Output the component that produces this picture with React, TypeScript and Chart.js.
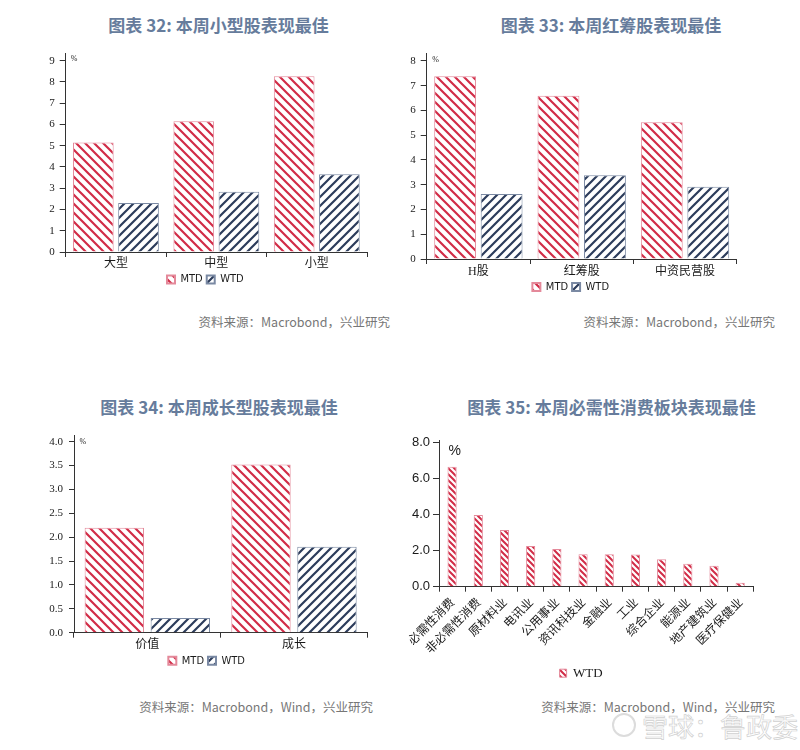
import React, { useEffect, useRef } from "react";
import { Chart, registerables } from "chart.js";

Chart.register(...registerables);

// ---------- data ----------
const sizeCategories = ["大型", "中型", "小型"];
const sizeMTD = [5.15, 6.15, 8.27];
const sizeWTD = [2.31, 2.83, 3.66];
const sizeTicks = [0, 1, 2, 3, 4, 5, 6, 7, 8, 9];

const hkCategories = ["H股", "红筹股", "中资民营股"];
const hkMTD = [7.38, 6.6, 5.52];
const hkWTD = [2.63, 3.38, 2.92];
const hkTicks = [0, 1, 2, 3, 4, 5, 6, 7, 8];

const styleCategories = ["价值", "成长"];
const styleMTD = [2.2, 3.52];
const styleWTD = [0.31, 1.8];
const styleTicks = [0, 0.5, 1, 1.5, 2, 2.5, 3, 3.5, 4];

const sectorCategories = [
  "必需性消费",
  "非必需性消费",
  "原材料业",
  "电讯业",
  "公用事业",
  "资讯科技业",
  "金融业",
  "工业",
  "综合企业",
  "能源业",
  "地产建筑业",
  "医疗保健业",
];
const sectorWTD = [6.67, 3.98, 3.15, 2.26, 2.09, 1.8, 1.8, 1.79, 1.52, 1.28, 1.17, 0.22];
const sectorTicks = [0, 2, 4, 6, 8];

const seriesNames = ["MTD", "WTD"];
const sectorSeriesName = "WTD";

// ---------- styles ----------
const RED = "#d12c47";
const RED_BORDER = "#e4899a";
const NAVY = "#2c3c5b";
const NAVY_BORDER = "#7a89a3";
const AXIS = "#333333";
const LABEL = "#1a1a1a";
const TITLE_COLOR = "#667c9c";
const SOURCE_COLOR = "#777777";

const SERIF = '"Liberation Serif", "Times New Roman", "Noto Sans CJK SC", serif';
const NARROW = '"Liberation Sans Narrow", "DejaVu Sans Condensed", "Noto Sans", sans-serif';
const SANS = '"Liberation Sans", Arial, "Noto Sans CJK SC", sans-serif';
const CJK = '"Noto Sans CJK SC", sans-serif';

function makeHatch(color: string, size: number, width: number, dir: "back" | "fwd") {
  const c = document.createElement("canvas");
  c.width = size;
  c.height = size;
  const g = c.getContext("2d")!;
  g.fillStyle = "#ffffff";
  g.fillRect(0, 0, size, size);
  g.strokeStyle = color;
  g.lineWidth = width;
  g.beginPath();
  for (let k = -1; k <= 1; k++) {
    if (dir === "back") {
      g.moveTo(k * size - 1, -1);
      g.lineTo(k * size + size + 1, size + 1);
    } else {
      g.moveTo(k * size - 1, size + 1);
      g.lineTo(k * size + size + 1, -1);
    }
  }
  g.stroke();
  return g.createPattern(c, "repeat")!;
}

type Layout = {
  x0: number;
  y0: number;
  w: number;
  h: number;
  areaL: number;
  areaR: number;
  areaT: number;
  areaB: number;
  yW: number;
  xH: number;
  legendFont: number;
  legendBoxW: number;
  legendBoxH: number;
  legendPad: number;
};

function computePads(L: Layout) {
  const pl = L.areaL - L.x0 - L.yW;
  const pr = L.x0 + L.w - L.areaR;
  const pt = L.areaT - L.y0;
  const itemH = Math.max(L.legendFont, L.legendBoxH);
  const legendH = itemH + L.legendPad + 10;
  const pb = Math.max(0, L.y0 + L.h - (L.areaB + L.xH + legendH));
  return { pl, pr, pt, pb, yW: L.yW, xH: L.xH };
}

type PanelOpts = {
  layout: Layout;
  categories: string[];
  datasets: any[];
  ticks: number[];
  yMax: number;
  decimals: number;
  yFont: any;
  yTickLen: number;
  yTickPad: number;
  xFont: any;
  xTickPad: number;
  rotation: number;
  legendFontFamily: string;
  legendLineWidth: number;
  pct: { text: string; dx: number; dy: number; font: string; at: number };
};

function buildConfig(o: PanelOpts): any {
  const P = computePads(o.layout);
  const tickVals = o.ticks;
  const pctPlugin = {
    id: "pctMark",
    afterDraw(chart: any) {
      const { ctx, chartArea } = chart;
      const y = chart.scales.y.getPixelForValue(o.pct.at) + o.pct.dy;
      ctx.save();
      ctx.font = o.pct.font;
      ctx.fillStyle = LABEL;
      ctx.textAlign = "left";
      ctx.textBaseline = "middle";
      ctx.fillText(o.pct.text, chartArea.left + o.pct.dx, y);
      ctx.restore();
    },
  };
  return {
    type: "bar",
    data: { labels: o.categories, datasets: o.datasets },
    plugins: [pctPlugin],
    options: {
      responsive: false,
      animation: false,
      events: [],
      layout: { padding: { left: P.pl, right: P.pr, top: P.pt, bottom: P.pb } },
      plugins: {
        tooltip: { enabled: false },
        title: { display: false },
        legend: {
          display: true,
          position: "bottom",
          labels: {
            boxWidth: o.layout.legendBoxW,
            boxHeight: o.layout.legendBoxH,
            padding: o.layout.legendPad,
            color: LABEL,
            font: { family: o.legendFontFamily, size: o.layout.legendFont },
            generateLabels: (chart: any) => {
              const items = Chart.defaults.plugins.legend.labels.generateLabels(chart);
              return items.map((it: any) => ({ ...it, lineWidth: o.legendLineWidth }));
            },
          },
        },
      },
      scales: {
        x: {
          type: "category",
          offset: true,
          grid: {
            display: true,
            drawOnChartArea: false,
            drawTicks: true,
            tickLength: 5,
            color: AXIS,
            offset: true,
          },
          border: { display: true, color: AXIS, width: 1 },
          ticks: {
            font: o.xFont,
            color: LABEL,
            padding: o.xTickPad,
            autoSkip: false,
            maxRotation: o.rotation,
            minRotation: o.rotation,
          },
          afterFit: (s: any) => {
            s.height = P.xH;
          },
        },
        y: {
          type: "linear",
          min: 0,
          max: o.yMax,
          grid: {
            display: true,
            drawOnChartArea: false,
            drawTicks: true,
            tickLength: o.yTickLen,
            color: AXIS,
          },
          border: { display: true, color: AXIS, width: 1 },
          ticks: {
            font: o.yFont,
            color: LABEL,
            padding: o.yTickPad,
            callback: (v: any) => Number(v).toFixed(o.decimals),
          },
          afterBuildTicks: (s: any) => {
            s.ticks = tickVals.map((v) => ({ value: v }));
          },
          afterFit: (s: any) => {
            s.width = P.yW;
          },
        },
      },
    },
  };
}

function ChartCanvas({ layout, make }: { layout: Layout; make: () => any }) {
  const ref = useRef<HTMLCanvasElement | null>(null);
  useEffect(() => {
    if (!ref.current) return;
    const chart = new Chart(ref.current, make());
    return () => chart.destroy();
  }, []);
  return (
    <canvas
      ref={ref}
      width={layout.w}
      height={layout.h}
      style={{ position: "absolute", left: layout.x0, top: layout.y0, width: layout.w, height: layout.h }}
    />
  );
}

const L1: Layout = {
  x0: 0, y0: 40, w: 400, h: 270,
  areaL: 65.7, areaR: 367, areaT: 53.3, areaB: 252, yW: 22, xH: 18,
  legendFont: 11, legendBoxW: 8, legendBoxH: 8, legendPad: 4,
};
const L2: Layout = {
  x0: 400, y0: 40, w: 400, h: 270,
  areaL: 426.7, areaR: 736.7, areaT: 53.3, areaB: 259, yW: 22, xH: 18.5,
  legendFont: 11, legendBoxW: 8, legendBoxH: 8, legendPad: 4,
};
const L3: Layout = {
  x0: 0, y0: 420, w: 400, h: 270,
  areaL: 74, areaR: 367.3, areaT: 435, areaB: 632.7, yW: 28, xH: 18.5,
  legendFont: 11, legendBoxW: 8, legendBoxH: 8, legendPad: 4,
};
const L4: Layout = {
  x0: 400, y0: 420, w: 400, h: 275,
  areaL: 439, areaR: 753.3, areaT: 440, areaB: 586.7, yW: 30, xH: 76,
  legendFont: 13, legendBoxW: 7, legendBoxH: 8, legendPad: 4,
};

function groupedDatasets(mtd: number[], wtd: number[]) {
  const redP = makeHatch(RED, 9, 2.2, "back");
  const navyP = makeHatch(NAVY, 9, 2.2, "fwd");
  return [
    {
      label: seriesNames[0],
      data: mtd,
      backgroundColor: redP,
      borderColor: RED_BORDER,
      borderWidth: 1,
      categoryPercentage: 0.9,
      barPercentage: 0.9,
    },
    {
      label: seriesNames[1],
      data: wtd,
      backgroundColor: navyP,
      borderColor: NAVY_BORDER,
      borderWidth: 1,
      categoryPercentage: 0.9,
      barPercentage: 0.9,
    },
  ];
}

const make1 = () =>
  buildConfig({
    layout: L1,
    categories: sizeCategories,
    datasets: groupedDatasets(sizeMTD, sizeWTD),
    ticks: sizeTicks,
    yMax: 9.35,
    decimals: 0,
    yFont: { family: SERIF, size: 11 },
    yTickLen: 6,
    yTickPad: 5,
    xFont: { family: SERIF, size: 12, lineHeight: 1 },
    xTickPad: 1,
    rotation: 0,
    legendFontFamily: NARROW,
    legendLineWidth: 2,
    pct: { text: "%", dx: 5, dy: -1.5, font: `8px ${SERIF}`, at: 9 },
  });

const make2 = () =>
  buildConfig({
    layout: L2,
    categories: hkCategories,
    datasets: groupedDatasets(hkMTD, hkWTD),
    ticks: hkTicks,
    yMax: 8.31,
    decimals: 0,
    yFont: { family: SERIF, size: 11 },
    yTickLen: 6,
    yTickPad: 5,
    xFont: { family: SERIF, size: 12, lineHeight: 1 },
    xTickPad: 1.5,
    rotation: 0,
    legendFontFamily: NARROW,
    legendLineWidth: 2,
    pct: { text: "%", dx: 5.5, dy: -1, font: `8px ${SERIF}`, at: 8 },
  });

const make3 = () =>
  buildConfig({
    layout: L3,
    categories: styleCategories,
    datasets: groupedDatasets(styleMTD, styleWTD),
    ticks: styleTicks,
    yMax: 4.14,
    decimals: 1,
    yFont: { family: SERIF, size: 11 },
    yTickLen: 5,
    yTickPad: 6,
    xFont: { family: SERIF, size: 12, lineHeight: 1 },
    xTickPad: 1.5,
    rotation: 0,
    legendFontFamily: NARROW,
    legendLineWidth: 2,
    pct: { text: "%", dx: 5.5, dy: 0, font: `8px ${SERIF}`, at: 4 },
  });

const make4 = () =>
  buildConfig({
    layout: L4,
    categories: sectorCategories,
    datasets: [
      {
        label: sectorSeriesName,
        data: sectorWTD,
        backgroundColor: makeHatch(RED, 6, 2, "back"),
        borderColor: RED_BORDER,
        borderWidth: 1,
        categoryPercentage: 1,
        barPercentage: 0.35,
      },
    ],
    ticks: sectorTicks,
    yMax: 8.15,
    decimals: 1,
    yFont: { family: SANS, size: 13 },
    yTickLen: 6,
    yTickPad: 3,
    xFont: { family: CJK, size: 12 },
    xTickPad: 3,
    rotation: 45,
    legendFontFamily: SERIF,
    legendLineWidth: 1,
    pct: { text: "%", dx: 9.5, dy: 8, font: `14px ${SANS}`, at: 8 },
  });

function Title({ text, cx, cy }: { text: string; cx: number; cy: number }) {
  return (
    <div
      style={{
        position: "absolute",
        left: cx - 200,
        top: cy - 12,
        width: 400,
        height: 24,
        lineHeight: "24px",
        textAlign: "center",
        fontFamily: CJK,
        fontWeight: 700,
        fontSize: 17,
        color: TITLE_COLOR,
        whiteSpace: "nowrap",
      }}
    >
      {text}
    </div>
  );
}

function Source({ text, right, cy }: { text: string; right: number; cy: number }) {
  return (
    <div
      style={{
        position: "absolute",
        left: right - 400,
        top: cy - 10,
        width: 400,
        height: 20,
        lineHeight: "20px",
        textAlign: "right",
        fontFamily: CJK,
        fontSize: 12.5,
        color: SOURCE_COLOR,
        whiteSpace: "nowrap",
      }}
    >
      {text}
    </div>
  );
}

export default function App() {
  return (
    <div
      style={{
        position: "absolute",
        left: 0,
        top: 0,
        width: 800,
        height: 750,
        background: "#ffffff",
        overflow: "hidden",
      }}
    >
      <Title text="图表 32: 本周小型股表现最佳" cx={218.5} cy={25} />
      <Title text="图表 33: 本周红筹股表现最佳" cx={611} cy={25} />
      <Title text="图表 34: 本周成长型股表现最佳" cx={219} cy={407} />
      <Title text="图表 35: 本周必需性消费板块表现最佳" cx={611.5} cy={407} />

      <ChartCanvas layout={L1} make={make1} />
      <ChartCanvas layout={L2} make={make2} />
      <ChartCanvas layout={L3} make={make3} />
      <ChartCanvas layout={L4} make={make4} />

      <Source text="资料来源：Macrobond，兴业研究" right={390} cy={322} />
      <Source text="资料来源：Macrobond，兴业研究" right={775} cy={322} />
      <Source text="资料来源：Macrobond，Wind，兴业研究" right={373} cy={707} />
      <Source text="资料来源：Macrobond，Wind，兴业研究" right={775} cy={707} />

      <div
        style={{
          position: "absolute",
          left: 612,
          top: 713,
          width: 24,
          height: 24,
          borderRadius: "50%",
          border: "2px solid #dcdcdc",
          boxSizing: "border-box",
        }}
      />
      <div
        style={{
          position: "absolute",
          left: 642,
          top: 710,
          width: 140,
          height: 32,
          lineHeight: "32px",
          fontFamily: CJK,
          fontSize: 26,
          color: "rgba(255,255,255,0.85)",
          WebkitTextStroke: "0.7px #d0d0d0",
          whiteSpace: "nowrap",
        }}
      >
        雪球：鲁政委
      </div>
    </div>
  );
}
